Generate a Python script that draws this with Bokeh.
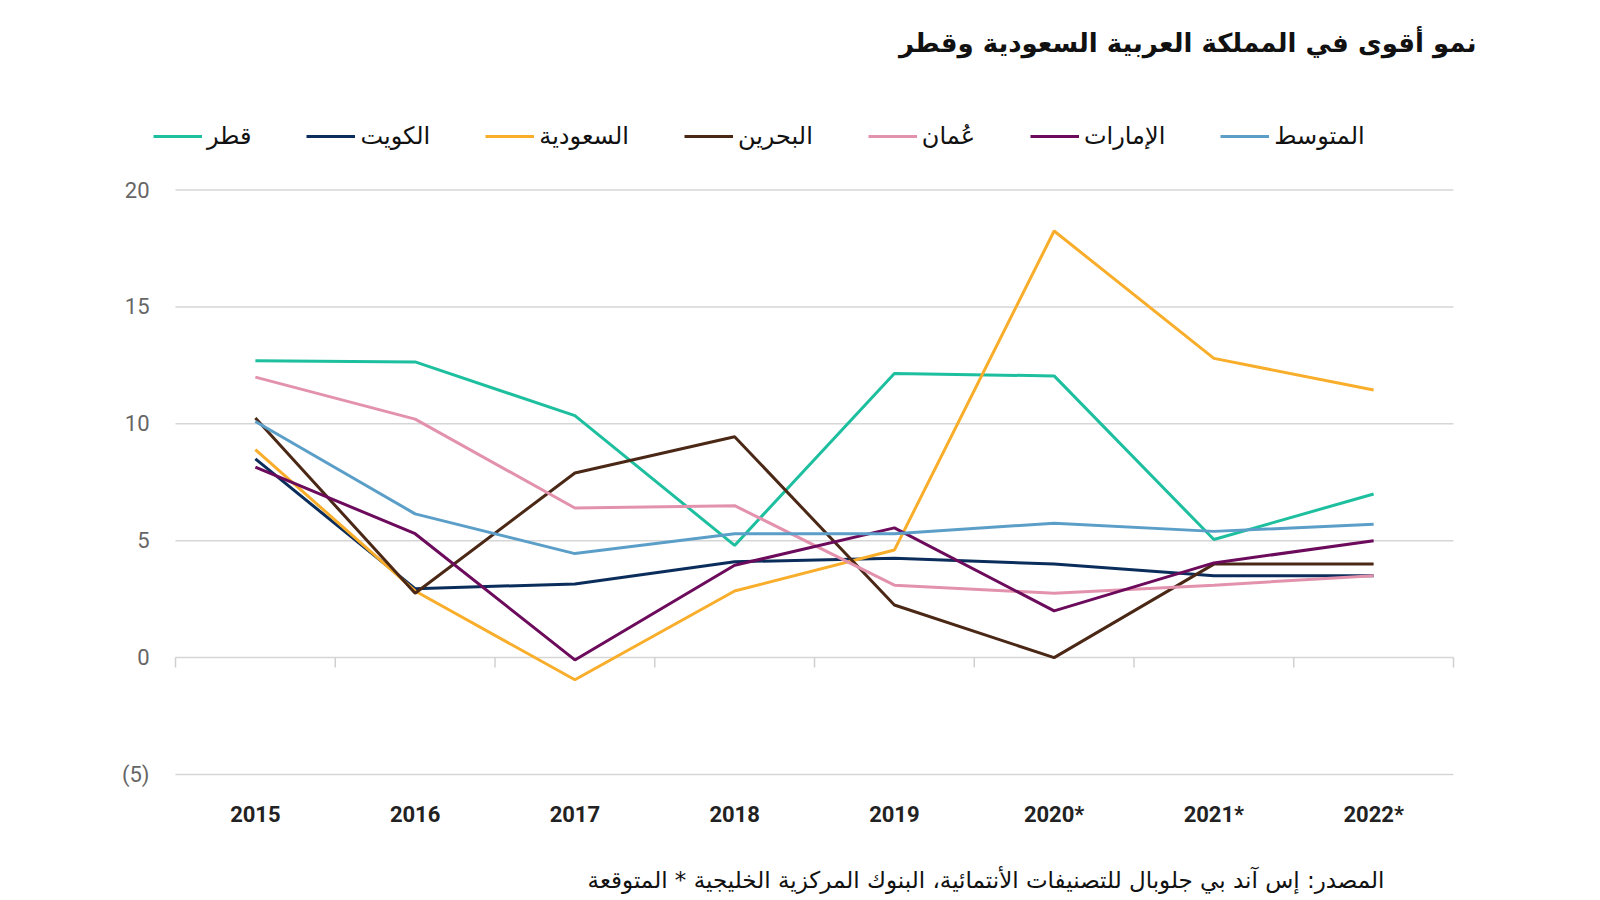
from bokeh.plotting import figure
from bokeh.layouts import column
from bokeh.models import Range1d, FixedTicker, Legend, LegendItem, ColumnDataSource, Label, Title
from bokeh.embed import file_html
from bokeh.resources import INLINE

years = ["2015", "2016", "2017", "2018", "2019", "2020*", "2021*", "2022*"]
qatar = [12.7, 12.65, 10.35, 4.8, 12.15, 12.05, 5.05, 7.0]
kuwait = [8.5, 2.95, 3.15, 4.1, 4.25, 4.0, 3.5, 3.5]
saudi = [8.9, 2.85, -0.95, 2.85, 4.6, 18.25, 12.8, 11.45]
bahrain = [10.25, 2.75, 7.9, 9.45, 2.25, 0.0, 4.0, 4.0]
oman = [12.0, 10.2, 6.4, 6.5, 3.1, 2.75, 3.1, 3.5]
uae = [8.15, 5.3, -0.1, 3.95, 5.55, 2.0, 4.05, 5.0]
average = [10.1, 6.15, 4.45, 5.3, 5.3, 5.75, 5.4, 5.7]

series_names = ["قطر", "الكويت", "السعودية", "البحرين", "عُمان", "الإمارات", "المتوسط"]
series_values = [qatar, kuwait, saudi, bahrain, oman, uae, average]
series_colors = ["#1dbf9f", "#0b2d5b", "#f9ae2b", "#4b2816", "#e392ae", "#6c0b5c", "#5b9fc9"]

y_ticks = [-5, 0, 5, 10, 15, 20]
y_tick_labels = ["(5)", "0", "5", "10", "15", "20"]

title_text = "نمو أقوى في المملكة العربية السعودية وقطر"
source_text = "المصدر: إس آند بي جلوبال للتصنيفات الأنتمائية، البنوك المركزية الخليجية * المتوقعة"

ARABIC_FONT = "DejaVu Sans"

xs = list(range(len(years)))
n = len(years)

# main chart: frame spans page x 150..1487, y 0..781
p = figure(width=1590, height=840, output_backend="svg", toolbar_location=None,
           x_range=Range1d(-0.6565, 7.7128), y_range=Range1d(-5.3, 28.11),
           min_border_left=150, min_border_right=103, min_border_top=0, min_border_bottom=59)
p.outline_line_color = None
p.background_fill_color = "white"
p.border_fill_color = "white"

p.xaxis.ticker = FixedTicker(ticks=xs)
p.xaxis.major_label_overrides = {i: y for i, y in enumerate(years)}
p.xaxis.axis_line_color = None
p.xaxis.major_tick_line_color = None
p.xaxis.minor_tick_line_color = None
p.xaxis.major_label_standoff = 14
p.xaxis.major_label_text_font = "Roboto"
p.xaxis.major_label_text_font_size = "22px"
p.xaxis.major_label_text_font_style = "bold"
p.xaxis.major_label_text_color = "#222222"

p.yaxis.ticker = FixedTicker(ticks=y_ticks)
p.yaxis.major_label_overrides = {t: l for t, l in zip(y_ticks, y_tick_labels)}
p.yaxis.axis_line_color = None
p.yaxis.major_tick_line_color = None
p.yaxis.minor_tick_line_color = None
p.yaxis.major_label_standoff = -5
p.yaxis.major_label_text_font = "Roboto"
p.yaxis.major_label_text_font_size = "22px"
p.yaxis.major_label_text_color = "#666666"

p.xgrid.grid_line_color = None
p.ygrid.grid_line_color = None

# horizontal gridlines spanning the categories
p.segment(x0=[-0.5] * len(y_ticks), x1=[n - 0.5] * len(y_ticks), y0=y_ticks, y1=y_ticks,
          line_color="#d6d6d6", line_width=1.5)
# category boundary ticks on the zero line
bounds = [i - 0.5 for i in range(n + 1)]
p.segment(x0=bounds, x1=bounds, y0=[0] * len(bounds), y1=[-0.42] * len(bounds),
          line_color="#d0d0d0", line_width=1.5)

items = []
for name, vals, col in zip(series_names, series_values, series_colors):
    src = ColumnDataSource(dict(x=xs, y=vals))
    r = p.line("x", "y", source=src, line_color=col, line_width=3)
    items.append(LegendItem(label=name, renderers=[r]))

legend = Legend(items=items, orientation="horizontal", location=(3, 631),
                padding=0, margin=0, spacing=55, label_standoff=5,
                glyph_width=49, glyph_height=24, label_height=24,
                label_text_font=ARABIC_FONT, label_text_font_size="24px",
                label_text_color="#111111", border_line_color=None,
                background_fill_alpha=0)
p.add_layout(legend)

p.add_layout(Label(x=1326, y=739, x_units="screen", y_units="screen", text=title_text,
                   text_align="right", text_baseline="middle", text_font=ARABIC_FONT,
                   text_font_size="26px", text_font_style="bold", text_color="#111111"))

# footer strip holding the source note as a right-aligned title
f = figure(width=1590, height=60, output_backend="svg", toolbar_location=None,
           x_range=Range1d(0, 1), y_range=Range1d(0, 1),
           x_axis_location=None, y_axis_location=None,
           min_border_left=0, min_border_right=0, min_border_top=0, min_border_bottom=0)
f.outline_line_color = None
f.xgrid.grid_line_color = None
f.ygrid.grid_line_color = None
f.add_layout(Title(text=source_text, align="right", offset=103, standoff=15,
                   text_font=ARABIC_FONT, text_font_size="23px", text_font_style="normal",
                   text_color="#111111"), "below")

layout = column(p, f, spacing=0)
open("out.html", "w").write(file_html(layout, INLINE))
